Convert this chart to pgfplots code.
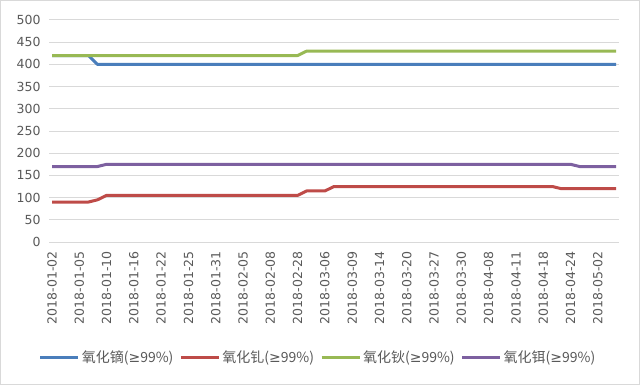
\documentclass[border=0pt]{standalone}
\usepackage{pgfplots}
\pgfplotsset{compat=1.18}
\usepackage{pgfplotstable}
\usepackage{fontspec}
\setmainfont{DejaVu Sans}
\newfontfamily\cjk{Noto Sans CJK SC}
\definecolor{cblue}{HTML}{4A7EBB}
\definecolor{cred}{HTML}{BE4B48}
\definecolor{cgreen}{HTML}{98B954}
\definecolor{cpurple}{HTML}{7D60A0}
\definecolor{tgray}{HTML}{595959}
\definecolor{ggray}{HTML}{D9D9D9}
\pgfplotstableread{
i b r g p
0 420 90 420 170
1 420 90 420 170
2 420 90 420 170
3 420 90 420 170
4 420 90 420 170
5 400 95 420 170
6 400 105 420 175
7 400 105 420 175
8 400 105 420 175
9 400 105 420 175
10 400 105 420 175
11 400 105 420 175
12 400 105 420 175
13 400 105 420 175
14 400 105 420 175
15 400 105 420 175
16 400 105 420 175
17 400 105 420 175
18 400 105 420 175
19 400 105 420 175
20 400 105 420 175
21 400 105 420 175
22 400 105 420 175
23 400 105 420 175
24 400 105 420 175
25 400 105 420 175
26 400 105 420 175
27 400 105 420 175
28 400 115 430 175
29 400 115 430 175
30 400 115 430 175
31 400 125 430 175
32 400 125 430 175
33 400 125 430 175
34 400 125 430 175
35 400 125 430 175
36 400 125 430 175
37 400 125 430 175
38 400 125 430 175
39 400 125 430 175
40 400 125 430 175
41 400 125 430 175
42 400 125 430 175
43 400 125 430 175
44 400 125 430 175
45 400 125 430 175
46 400 125 430 175
47 400 125 430 175
48 400 125 430 175
49 400 125 430 175
50 400 125 430 175
51 400 125 430 175
52 400 125 430 175
53 400 125 430 175
54 400 125 430 175
55 400 125 430 175
56 400 120 430 175
57 400 120 430 175
58 400 120 430 170
59 400 120 430 170
60 400 120 430 170
61 400 120 430 170
62 400 120 430 170
}\data
\begin{document}
\begin{tikzpicture}[x=1bp,y=1bp]
\draw[ggray, line width=1bp] (0.5,0.5) rectangle (639.5,384.5);
\begin{axis}[
  at={(49bp,143bp)}, anchor=south west,
  scale only axis, width=570bp, height=222bp,
  xmin=-0.33, xmax=62.33, ymin=0, ymax=500,
  axis line style={draw=none},
  ytick={0,50,...,500},
  xtick={0,3,...,60},
  xticklabels={2018-01-02,2018-01-05,2018-01-10,2018-01-16,2018-01-22,2018-01-25,2018-01-31,2018-02-05,2018-02-08,2018-02-28,2018-03-06,2018-03-09,2018-03-14,2018-03-20,2018-03-27,2018-03-30,2018-04-08,2018-04-11,2018-04-18,2018-04-24,2018-05-02},
  ymajorgrids, grid style={ggray, line width=1bp},
  major tick length=0pt,
  /pgf/number format/assume math mode=true,
  tick label style={font=\fontsize{12.5bp}{15bp}\selectfont, text=tgray},
  yticklabel style={xshift=-5bp},
  xticklabel style={rotate=90, anchor=east},
  xticklabel shift=6bp,
  clip=false,
  legend columns=4,
  legend style={at={(0.472,-0.518)}, anchor=center, draw=none, fill=none,
    font=\fontsize{14bp}{17bp}\selectfont\cjk, text=tgray,
    /tikz/every even column/.style={column sep=4bp}},
  legend image code/.code={\draw[#1] (0bp,0bp) -- (38bp,0bp);},
  every axis plot/.append style={line width=3bp, line join=round, no markers},
]
\addplot[cblue] table[x=i,y=b]{\data};
\addlegendentry{氧化镝({\normalfont ≥}99\%)}
\addplot[cred] table[x=i,y=r]{\data};
\addlegendentry{氧化钆({\normalfont ≥}99\%)}
\addplot[cgreen] table[x=i,y=g]{\data};
\addlegendentry{氧化钬({\normalfont ≥}99\%)}
\addplot[cpurple] table[x=i,y=p]{\data};
\addlegendentry{氧化铒({\normalfont ≥}99\%)}
\end{axis}
\end{tikzpicture}
\end{document}
